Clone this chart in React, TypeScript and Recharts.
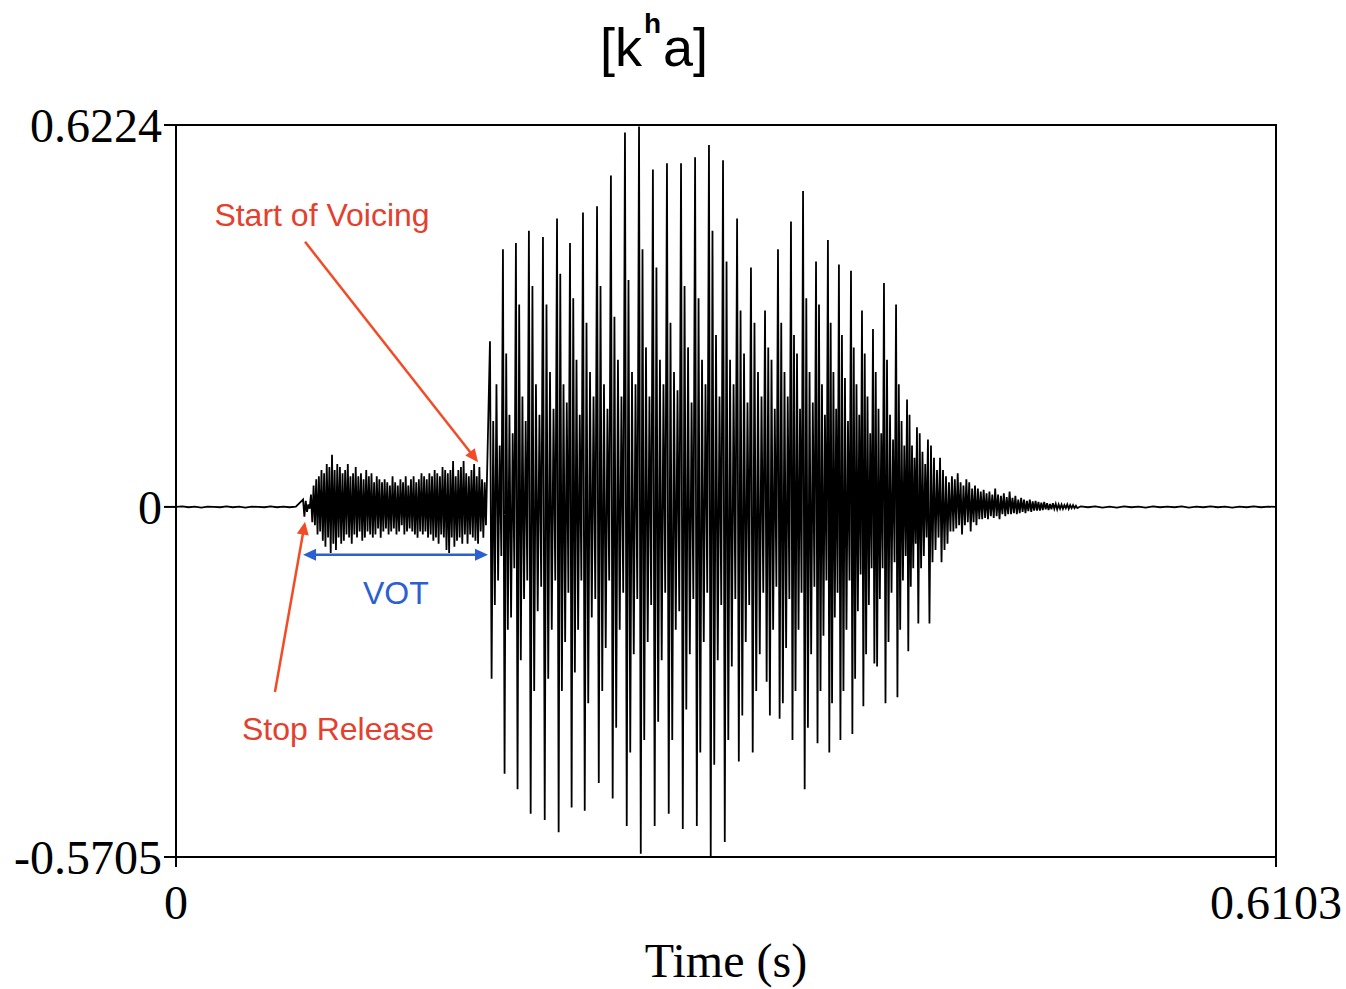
import React from 'react';
import { LineChart, Line, XAxis, YAxis, ReferenceArea, ReferenceLine, ReferenceDot } from 'recharts';

// ---- axis definitions ----
const X_MAX = 0.6103;
const Y_MIN = -0.5705;
const Y_MAX = 0.6224;
const xTicks = [0, 0.6103];
const yTicks = [-0.5705, 0, 0.6224];
const xTickLabels = ['0', '0.6103'];
const yTickLabels = ['-0.5705', '0', '0.6224'];

// ---- silence before the release ----
const LEAD_START = 0;
const LEAD_STEP = 0.0035;
const leadValues = [0, 0.001, -0.0005, 0.0005, -0.001, 0.0005, 0, -0.0005, 0.001, -0.0005, 0.0005, -0.001, 0.0005, 0, -0.0005, 0.001, -0.0005, 0.0005, -0.0005, 0.0005];

// ---- aspiration noise (stop release -> start of voicing) ----
const BURST_START = 0.0705;
const BURST_STEP = 0.00073;
const burstValues = [
  0.012, -0.016, 0.01, -0.008, 0.004, -0.003,
  0.02, -0.025, 0.035, -0.03, 0.045,
  -0.045, 0.05, -0.04, 0.06, -0.055, 0.055, -0.065, 0.07, -0.05, 0.065,
  -0.075, 0.085, -0.06, 0.06, -0.07, 0.07, -0.05, 0.065, -0.06, 0.055,
  -0.055, 0.06, -0.045, 0.07, -0.05, 0.05, -0.06, 0.055, -0.045, 0.065,
  -0.05, 0.05, -0.04, 0.055, -0.055, 0.045, -0.05, 0.06, -0.04, 0.05,
  -0.045, 0.055, -0.05, 0.04, -0.045, 0.05, -0.035, 0.045, -0.05, 0.04,
  -0.04, 0.045, -0.035, 0.04, -0.045, 0.035, -0.04, 0.05, -0.035, 0.04,
  -0.045, 0.035, -0.04, 0.045, -0.03, 0.04, -0.045, 0.05, -0.04, 0.035,
  -0.035, 0.045, -0.04, 0.05, -0.045, 0.04, -0.05, 0.045, -0.04, 0.055,
  -0.045, 0.05, -0.04, 0.045, -0.05, 0.055, -0.045, 0.05, -0.055, 0.06,
  -0.05, 0.055, -0.06, 0.05, -0.045, 0.065, -0.05, 0.06, -0.07, 0.055,
  -0.075, 0.06, -0.05, 0.075, -0.065, 0.05, -0.055, 0.06, -0.05, 0.065,
  -0.06, 0.075, -0.045, 0.055, -0.06, 0.05, -0.045, 0.06, -0.05, 0.07,
  -0.055, 0.05, -0.06, 0.065, -0.04, 0.045, -0.05, 0.04, -0.03,
];

// ---- voiced part: one glottal pulse per period ----
const pulseTimes = [
  0.1742, 0.1814, 0.1886, 0.1958, 0.2036, 0.2114, 0.2186, 0.2258, 0.2336, 0.2413,
  0.2491, 0.2569, 0.2646, 0.2724, 0.2802, 0.2880, 0.2957, 0.3035, 0.3113, 0.3190,
  0.3268, 0.3340, 0.3412, 0.3479, 0.3551, 0.3617, 0.3678, 0.3745, 0.3806, 0.3867,
  0.3928, 0.3995, 0.4056, 0.4111, 0.4172, 0.4239,
];
const pulsePeaks = [
  0.27, 0.42, 0.43, 0.45, 0.44, 0.47, 0.43, 0.48, 0.49, 0.54,
  0.61, 0.62, 0.55, 0.56, 0.56, 0.57, 0.59, 0.565, 0.47, 0.39,
  0.32, 0.42, 0.465, 0.515, 0.40, 0.435, 0.395, 0.385, 0.32, 0.29,
  0.365, 0.33, 0.175, 0.13, 0.11, 0.08,
];
const pulseTroughs = [
  -0.28, -0.435, -0.46, -0.5, -0.51, -0.53, -0.49, -0.495, -0.45, -0.475,
  -0.52, -0.565, -0.52, -0.5, -0.525, -0.52, -0.57, -0.546, -0.415, -0.4,
  -0.285, -0.345, -0.38, -0.46, -0.385, -0.4, -0.38, -0.37, -0.325, -0.255,
  -0.32, -0.31, -0.235, -0.19, -0.19, -0.09,
];
const pulseRipples = [
  [0.14, -0.16, 0.2, -0.12, 0.1, -0.08],
  [0.25, -0.2, 0.15, -0.18, 0.12, -0.1],
  [0.33, -0.25, 0.18, -0.15, 0.14, -0.12],
  [0.36, -0.3, 0.2, -0.17, 0.15, -0.13],
  [0.33, -0.28, 0.22, -0.2, 0.16, -0.12],
  [0.38, -0.3, 0.2, -0.22, 0.17, -0.14],
  [0.34, -0.27, 0.24, -0.2, 0.15, -0.12],
  [0.3, -0.32, 0.22, -0.18, 0.18, -0.15],
  [0.36, -0.3, 0.2, -0.23, 0.16, -0.12],
  [0.31, -0.36, 0.24, -0.2, 0.18, -0.14],
  [0.37, -0.4, 0.22, -0.24, 0.2, -0.15],
  [0.42, -0.38, 0.26, -0.22, 0.18, -0.16],
  [0.39, -0.35, 0.24, -0.25, 0.2, -0.14],
  [0.3, -0.38, 0.22, -0.2, 0.19, -0.17],
  [0.36, -0.33, 0.26, -0.24, 0.17, -0.15],
  [0.34, -0.4, 0.24, -0.22, 0.2, -0.14],
  [0.45, -0.42, 0.28, -0.25, 0.18, -0.16],
  [0.4, -0.38, 0.24, -0.26, 0.2, -0.15],
  [0.32, -0.34, 0.25, -0.22, 0.17, -0.16],
  [0.3, -0.3, 0.22, -0.24, 0.18, -0.14],
  [0.26, -0.34, 0.24, -0.2, 0.16, -0.13],
  [0.3, -0.32, 0.22, -0.23, 0.18, -0.15],
  [0.28, -0.3, 0.25, -0.2, 0.16, -0.14],
  [0.34, -0.36, 0.22, -0.24, 0.17, -0.13],
  [0.33, -0.3, 0.2, -0.21, 0.15, -0.12],
  [0.3, -0.32, 0.22, -0.18, 0.16, -0.14],
  [0.28, -0.3, 0.21, -0.2, 0.14, -0.12],
  [0.26, -0.28, 0.2, -0.17, 0.15, -0.11],
  [0.25, -0.24, 0.18, -0.16, 0.12, -0.1],
  [0.22, -0.26, 0.16, -0.15, 0.12, -0.1],
  [0.24, -0.22, 0.15, -0.14, 0.11, -0.09],
  [0.2, -0.2, 0.14, -0.12, 0.1, -0.08],
  [0.15, -0.13, 0.1, -0.1, 0.08, -0.06],
  [0.12, -0.1, 0.09, -0.08, 0.07, -0.05],
  [0.1, -0.09, 0.08, -0.07, 0.06, -0.05],
  [0.06, -0.07, 0.05, -0.06, 0.04, -0.04],
];
const LAST_PERIOD = 0.0066;

// ---- decaying tail ----
const TAIL_START = 0.4305;
const TAIL_STEP = 0.0008;
const tailValues = [
  0.05, -0.04, 0.045, -0.035, 0.055, -0.03, 0.04, -0.045, 0.035, -0.03, 0.045, -0.025, 0.04, -0.04, 0.03, -0.025, 0.035, -0.03, 0.03, -0.02,
  0.025, -0.02, 0.028, -0.018, 0.022, -0.02, 0.025, -0.015, 0.02, -0.018, 0.03, -0.015, 0.02, -0.02, 0.018, -0.012, 0.022, -0.015, 0.016, -0.012,
  0.025, -0.012, 0.015, -0.01, 0.018, -0.012, 0.012, -0.01, 0.015, -0.008, 0.012, -0.01, 0.01, -0.007, 0.012, -0.008, 0.009, -0.006, 0.01, -0.006,
  0.008, -0.006, 0.007, -0.005, 0.008, -0.004, 0.006, -0.005, 0.005, -0.004, 0.006, -0.003, 0.005, -0.004, 0.004, -0.003, 0.004, -0.003, 0.003, -0.002,
  0.004, -0.003, 0.003, -0.002, 0.003, -0.002, 0.002, -0.002,
];

// ---- near-silence to the end ----
const OUTRO_START = 0.502;
const OUTRO_STEP = 0.004;
const outroValues = [0.001, -0.0005, 0.001, -0.001, 0.0005, -0.001, 0.001, -0.0005, 0.0005, -0.001, 0.001, -0.0005, 0.0005, -0.0005, 0.001, -0.001, 0.0005, -0.0005, 0.001, -0.0005, 0.0005, -0.001, 0.0005, -0.0005, 0.001, -0.0005, 0.0005, 0];

// ---- build the sample table ----
type Pt = { t: number; v: number };
const samples: Pt[] = [];
leadValues.forEach((v, i) => samples.push({ t: LEAD_START + i * LEAD_STEP, v }));
burstValues.forEach((v, i) => samples.push({ t: BURST_START + i * BURST_STEP, v }));
pulseTimes.forEach((t0, i) => {
  const period = i < pulseTimes.length - 1 ? pulseTimes[i + 1] - t0 : LAST_PERIOD;
  const vals = [pulsePeaks[i], pulseTroughs[i], ...pulseRipples[i]];
  vals.forEach((v, k) => samples.push({ t: t0 + (k * period) / vals.length, v }));
});
tailValues.forEach((v, i) => samples.push({ t: TAIL_START + i * TAIL_STEP, v }));
outroValues.forEach((v, i) => samples.push({ t: OUTRO_START + i * OUTRO_STEP, v }));
samples.push({ t: X_MAX, v: 0 });

// ---- annotations ----
const RED_TEXT = '#e4402e';
const RED_ARROW = '#f24b26';
const BLUE = '#2c5fd2';
const voicingArrow = [{ x: 0.0716, y: 0.432 }, { x: 0.1676, y: 0.073 }];
const releaseArrow = [{ x: 0.0549, y: -0.3015 }, { x: 0.0716, y: -0.024 }];
const votArrow = [{ x: 0.0705, y: -0.078 }, { x: 0.1731, y: -0.078 }];

const makeArrow = (color: string, both: boolean) => (p: any) => {
  const { x1, y1, x2, y2 } = p;
  const a = Math.atan2(y2 - y1, x2 - x1);
  const L = 13;
  const W = 6;
  const head = (x: number, y: number, ang: number) => {
    const bx = x - L * Math.cos(ang);
    const by = y - L * Math.sin(ang);
    const px = W * Math.sin(ang);
    const py = -W * Math.cos(ang);
    return `${x},${y} ${bx + px},${by + py} ${bx - px},${by - py}`;
  };
  const sx = both ? x1 + (L - 2) * Math.cos(a) : x1;
  const sy = both ? y1 + (L - 2) * Math.sin(a) : y1;
  const ex = x2 - (L - 2) * Math.cos(a);
  const ey = y2 - (L - 2) * Math.sin(a);
  return (
    <g>
      <line x1={sx} y1={sy} x2={ex} y2={ey} stroke={color} strokeWidth={2.5} />
      <polygon points={head(x2, y2, a)} fill={color} />
      {both && <polygon points={head(x1, y1, a + Math.PI)} fill={color} />}
    </g>
  );
};

const makeText = (txt: string, color: string) => (p: any) => (
  <text x={p.cx} y={p.cy} textAnchor="middle" fill={color} fontSize={32} fontFamily="'Liberation Sans', Arial, sans-serif">
    {txt}
  </text>
);

const serif = "'Liberation Serif', 'Times New Roman', serif";

export default function App() {
  return (
    <div style={{ position: 'absolute', left: 0, top: 0, width: 1346, height: 989, background: '#fff' }}>
      <LineChart width={1346} height={989} data={samples} margin={{ top: 125, right: 70, left: 0, bottom: 0 }}>
        <XAxis
          dataKey="t"
          type="number"
          domain={[0, X_MAX]}
          ticks={xTicks}
          interval={0}
          tickFormatter={(v: number) => xTickLabels[xTicks.indexOf(v)] ?? String(v)}
          height={132}
          tickSize={10}
          tickMargin={18}
          axisLine={{ stroke: '#000', strokeWidth: 2 }}
          tickLine={{ stroke: '#000', strokeWidth: 2 }}
          tick={{ fill: '#000', fontSize: 48, fontFamily: serif }}
          label={{ value: 'Time (s)', position: 'insideBottom', offset: 12, fill: '#000', fontSize: 48, fontFamily: serif }}
        />
        <YAxis
          type="number"
          domain={[Y_MIN, Y_MAX]}
          ticks={yTicks}
          interval={0}
          tickFormatter={(v: number) => yTickLabels[yTicks.indexOf(v)] ?? String(v)}
          width={176}
          tickSize={12}
          tickMargin={2}
          axisLine={{ stroke: '#000', strokeWidth: 2 }}
          tickLine={{ stroke: '#000', strokeWidth: 2 }}
          tick={{ fill: '#000', fontSize: 48, fontFamily: serif }}
        />
        <ReferenceArea x1={0} x2={X_MAX} y1={Y_MIN} y2={Y_MAX} fill="none" stroke="#000" strokeWidth={2} />
        <Line dataKey="v" type="linear" stroke="#000" strokeWidth={1.8} dot={false} isAnimationActive={false} />
        <ReferenceLine segment={voicingArrow} shape={makeArrow(RED_ARROW, false)} />
        <ReferenceLine segment={releaseArrow} shape={makeArrow(RED_ARROW, false)} />
        <ReferenceLine segment={votArrow} shape={makeArrow(BLUE, true)} />
        <ReferenceDot x={0.081} y={0.458} r={0} shape={makeText('Start of Voicing', RED_TEXT)} />
        <ReferenceDot x={0.122} y={-0.158} r={0} shape={makeText('VOT', BLUE)} />
        <ReferenceDot x={0.0899} y={-0.38} r={0} shape={makeText('Stop Release', RED_TEXT)} />
      </LineChart>
      <svg width={1346} height={100} style={{ position: 'absolute', left: 0, top: 0, pointerEvents: 'none' }}>
        <text x={654} y={66} textAnchor="middle" fontSize={54} fontFamily="'Liberation Sans', Arial, sans-serif" fill="#000">
          [k
          <tspan fontSize={28} fontWeight="bold" dx={2} dy={-33}>h</tspan>
          <tspan dx={2} dy={33}>a]</tspan>
        </text>
      </svg>
    </div>
  );
}
